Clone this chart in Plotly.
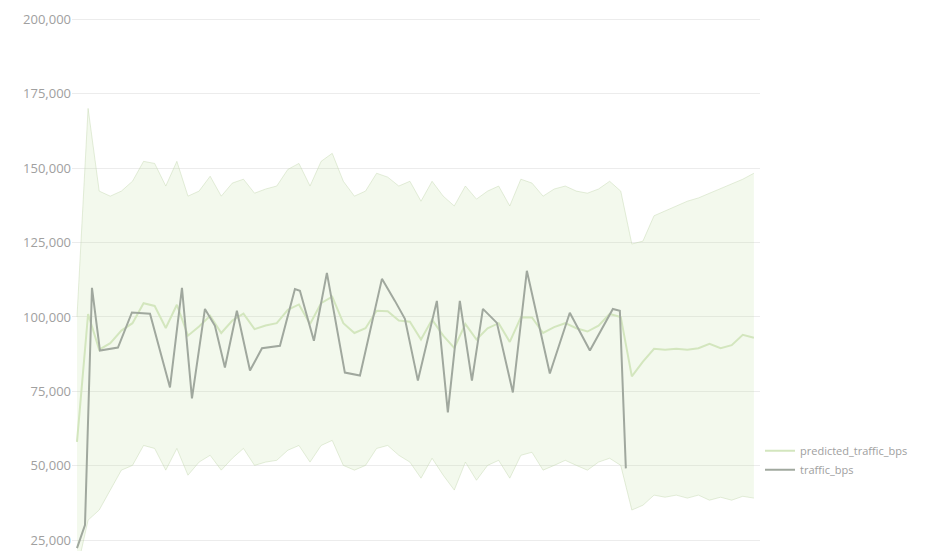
import plotly.graph_objects as go

# ---- data (values in thousands of bps) ----
traffic_days = [0.0, 0.72, 1.35, 2.07, 3.69, 4.95, 6.58, 8.38, 9.46, 10.36,
                11.53, 12.43, 13.33, 14.41, 15.59, 16.67, 18.29, 19.64, 20.09, 21.35,
                22.52, 24.14, 25.50, 27.48, 28.65, 29.55, 30.72, 32.43, 33.42, 34.50,
                35.59, 36.58, 37.84, 39.28, 40.54, 42.61, 44.41, 46.22, 48.29, 48.92,
                49.46]
traffic_k = [22.3, 30.0, 109.8, 88.7, 89.7, 101.5, 101.1, 76.3, 109.8, 72.6,
             102.7, 97.0, 83.0, 102.1, 82.0, 89.5, 90.3, 109.4, 108.8, 92.0,
             114.8, 81.3, 80.3, 112.8, 105.4, 99.4, 78.6, 105.4, 67.9, 105.4,
             78.6, 102.7, 98.0, 74.6, 115.5, 81.0, 101.4, 88.7, 102.7, 102.1,
             49.1]

pred_days = list(range(62))
pred_k = [58.0, 101.0, 89.0, 91.2, 95.4, 97.9, 104.6, 103.7, 96.3, 104.1,
          93.7, 96.8, 100.4, 94.6, 98.8, 101.1, 95.9, 97.1, 97.9, 102.4,
          104.2, 97.6, 104.6, 106.8, 97.9, 94.6, 96.2, 102.1, 101.9, 98.8,
          98.4, 92.4, 99.1, 93.7, 89.6, 97.6, 92.4, 96.2, 97.9, 91.6,
          99.9, 99.8, 94.6, 96.6, 97.9, 96.2, 95.1, 97.1, 101.0, 100.0,
          80.0, 85.0, 89.3, 89.0, 89.3, 89.0, 89.5, 91.0, 89.5, 90.5,
          94.0, 93.0]
upper_k = [100.0, 170.1, 142.3, 140.6, 142.3, 145.6, 152.3, 151.6, 144.0, 152.3,
           140.6, 142.3, 147.3, 140.6, 145.0, 146.3, 141.6, 143.0, 144.0, 149.6,
           151.6, 144.0, 152.3, 155.0, 145.6, 140.6, 142.3, 148.3, 147.0, 144.0,
           145.6, 138.9, 145.6, 140.6, 137.3, 144.0, 139.6, 142.3, 144.0, 137.3,
           146.3, 145.0, 140.6, 143.0, 144.0, 142.3, 141.6, 143.0, 145.6, 142.3,
           124.5, 125.5, 134.0, 135.6, 137.3, 138.9, 140.0, 141.6, 143.0, 144.6,
           146.3, 148.3]
lower_k = [15.0, 31.7, 35.1, 41.8, 48.5, 50.1, 56.8, 55.8, 48.5, 55.8,
           46.8, 51.2, 53.5, 48.5, 52.5, 55.8, 50.1, 51.2, 51.8, 55.2,
           56.8, 51.2, 56.8, 58.5, 50.1, 48.5, 50.1, 55.8, 56.8, 53.5,
           51.2, 45.8, 52.5, 46.8, 41.8, 51.2, 45.1, 50.1, 51.8, 45.8,
           53.5, 54.5, 48.5, 50.1, 51.8, 50.1, 48.5, 51.2, 52.5, 50.1,
           35.1, 36.7, 40.1, 39.4, 40.1, 39.1, 40.1, 38.4, 39.4, 38.4,
           39.7, 39.1]

y_ticks = [25000, 50000, 75000, 100000, 125000, 150000, 175000, 200000]

traffic = [v * 1000 for v in traffic_k]
pred = [v * 1000 for v in pred_k]
upper = [v * 1000 for v in upper_k]
lower = [v * 1000 for v in lower_k]

band_fill = "rgba(185,220,150,0.17)"
band_edge = "rgba(195,215,175,0.45)"

fig = go.Figure()
fig.add_trace(go.Scatter(x=pred_days, y=lower, mode="lines",
                         line=dict(color=band_edge, width=1),
                         showlegend=False, hoverinfo="skip"))
fig.add_trace(go.Scatter(x=pred_days, y=upper, mode="lines", fill="tonexty",
                         fillcolor=band_fill,
                         line=dict(color=band_edge, width=1),
                         showlegend=False, hoverinfo="skip"))
fig.add_trace(go.Scatter(x=pred_days, y=pred, mode="lines",
                         name="predicted_traffic_bps",
                         line=dict(color="#d3e6be", width=2)))
fig.add_trace(go.Scatter(x=traffic_days, y=traffic, mode="lines",
                         name="traffic_bps",
                         line=dict(color="#a0a89e", width=2)))

fig.update_layout(
    width=938, height=551,
    margin=dict(l=64, r=186, t=2, b=8),
    paper_bgcolor="white", plot_bgcolor="white",
    font=dict(family="Open Sans", color="#a0a0a0", size=12),
    legend=dict(x=1.0, xanchor="left", y=0.213, yanchor="top",
                traceorder="normal",
                font=dict(size=11, color="#a0a0a0"), bgcolor="rgba(0,0,0,0)"),
    xaxis=dict(range=[-0.45, 61.55], showgrid=False, zeroline=False,
               showticklabels=False, showline=False, ticks=""),
    yaxis=dict(range=[21316, 202512], tickvals=y_ticks, tickformat=",",
               showgrid=True, gridcolor="#ececec", gridwidth=1,
               zeroline=False, showline=False,
               tickfont=dict(size=13, color="#a0a0a0")),
)

fig.write_html("out.html")
